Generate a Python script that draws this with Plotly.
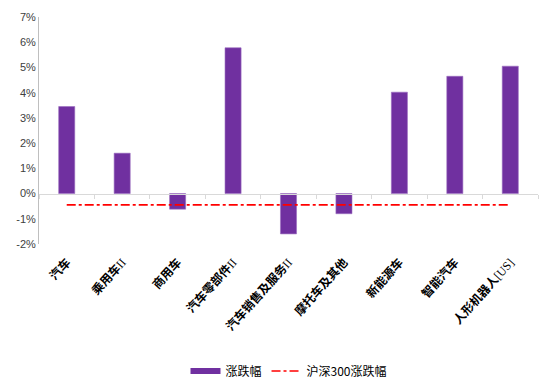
import plotly.graph_objects as go

# Sector returns (%) and CSI 300 benchmark
categories = ["汽车", "乘用车Ⅱ", "商用车", "汽车零部件Ⅱ", "汽车销售及服务Ⅱ",
              "摩托车及其他", "新能源车", "智能汽车", "人形机器人[US]"]
change_pct = [3.45, 1.6, -0.62, 5.78, -1.6, -0.8, 4.02, 4.65, 5.05]
hs300_pct = [-0.45] * len(categories)

y_min, y_max = -2, 7
tick_vals = list(range(y_min, y_max + 1))
tick_text = [f"{v}%" for v in tick_vals]

cjk = "Noto Sans CJK SC"
bar_color = "#7030A0"

# Roman numerals and ticker suffixes set in a light serif face
serif_span = '<span style="font-family:Liberation Serif;font-weight:normal">{}</span>'


def label_html(name):
    if name.endswith("Ⅱ"):
        return name[:-1] + serif_span.format("II")
    if name.endswith("[US]"):
        return name[:-4] + serif_span.format("[US]")
    return name


category_labels = [label_html(c) for c in categories]

fig = go.Figure()
fig.add_trace(go.Bar(
    x=categories, y=change_pct, name="涨跌幅", showlegend=False,
    marker=dict(color=bar_color, line=dict(color="#9B6BC0", width=0.6)),
    width=0.29,
))
# Legend entry for the bars, drawn as a thick swatch
fig.add_trace(go.Scatter(
    x=[None], y=[None], name="涨跌幅", mode="lines",
    line=dict(color=bar_color, width=6),
))
fig.add_trace(go.Scatter(
    x=categories, y=hs300_pct, name="沪深300涨跌幅", mode="lines",
    line=dict(color="#FF0000", width=1.6, dash="dashdot"),
))
# Invisible trace that carries the zero-level category axis
fig.add_trace(go.Scatter(
    x=categories, y=[0] * len(categories), xaxis="x2", mode="lines",
    line=dict(width=0), showlegend=False, hoverinfo="skip",
))

fig.update_layout(
    width=541, height=381,
    margin=dict(l=39, r=3, t=17, b=137, autoexpand=False),
    paper_bgcolor="white", plot_bgcolor="white",
    font=dict(family=cjk, color="#000000"),
    showlegend=True,
    legend=dict(orientation="h", x=0.5, xanchor="center",
                yref="container", y=(381 - 371) / 381, yanchor="middle",
                font=dict(family=cjk, size=12, color="#000000"),
                traceorder="normal"),
    xaxis=dict(
        type="category", showline=False, showgrid=False, zeroline=False,
        automargin=False, tickvals=categories, ticktext=category_labels,
        ticks="", tickangle=-48, ticklabelstandoff=8,
        tickfont=dict(family=cjk, size=12, color="#000000", weight="bold"),
    ),
    xaxis2=dict(
        type="category", overlaying="x", matches="x", anchor="free",
        position=(0 - y_min) / (y_max - y_min), side="bottom",
        showline=True, linecolor="#D9D9D9", linewidth=1,
        ticks="outside", ticklen=4, tickcolor="#D9D9D9", tickson="boundaries",
        showticklabels=False, showgrid=False, zeroline=False,
    ),
    yaxis=dict(
        range=[y_min, y_max], tickvals=tick_vals, ticktext=tick_text,
        showline=True, linecolor="#BFBFBF", linewidth=1, automargin=False,
        showgrid=False, zeroline=False, ticks="",
        tickfont=dict(family="Liberation Sans", size=11, color="#404040"),
    ),
)

fig.write_html("out.html")
